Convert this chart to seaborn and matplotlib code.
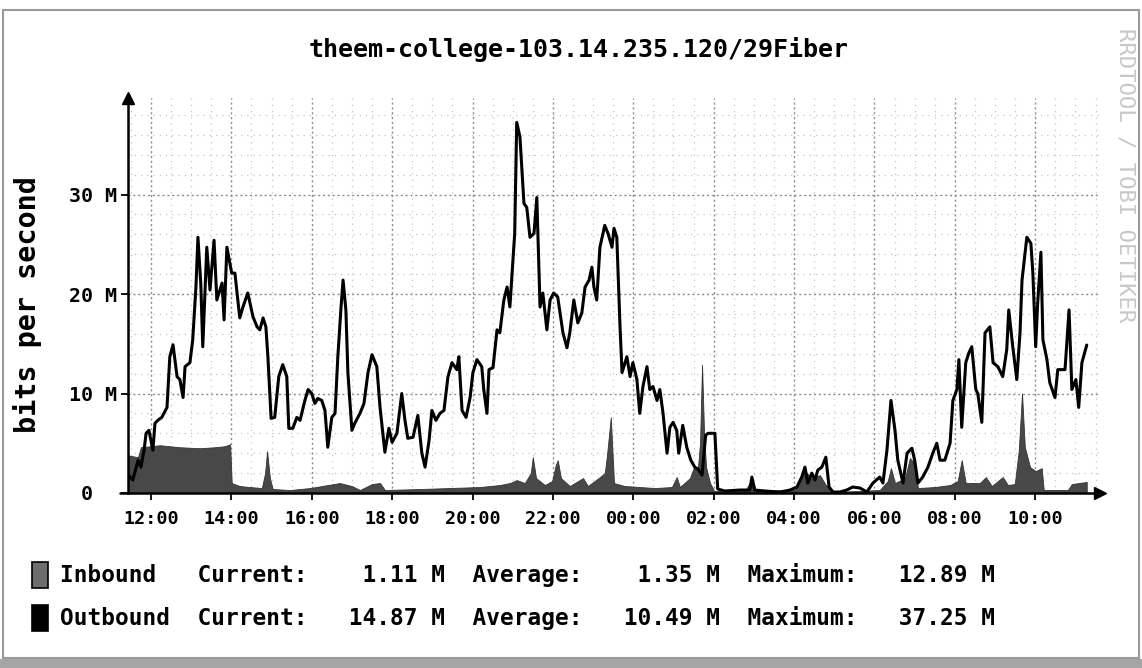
import matplotlib
matplotlib.use("Agg")
import matplotlib.pyplot as plt
import matplotlib.transforms as mtransforms
from matplotlib.patches import Rectangle
from matplotlib.ticker import FixedLocator, MultipleLocator
import pandas as pd
import seaborn as sns

# ---- chart text -------------------------------------------------------
title = "theem-college-103.14.235.120/29Fiber"
y_label = "bits per second"
watermark = "RRDTOOL / TOBI OETIKER"

# hours counted from 12:00 on the first day
hour_ticks = [0, 2, 4, 6, 8, 10, 12, 14, 16, 18, 20, 22]
hour_labels = ["12:00", "14:00", "16:00", "18:00", "20:00", "22:00",
               "00:00", "02:00", "04:00", "06:00", "08:00", "10:00"]
mbps_ticks = [0, 10, 20, 30]
mbps_labels = ["0", "10 M", "20 M", "30 M"]

# ---- outbound traffic (Mbit/s) ---------------------------------------
out_hours = [
    -0.60, -0.45, -0.32, -0.25, -0.17, -0.12, -0.05, 0.05, 0.10, 0.17,
    0.27, 0.40, 0.47, 0.55, 0.65, 0.72, 0.80, 0.85, 0.97, 1.04,
    1.12, 1.17, 1.24, 1.29, 1.39, 1.47, 1.57, 1.64, 1.77, 1.82,
    1.89, 2.01, 2.09, 2.21, 2.29, 2.41, 2.54, 2.64, 2.71, 2.79,
    2.86, 2.91, 2.99, 3.08, 3.18, 3.28, 3.38, 3.43, 3.53, 3.63,
    3.71, 3.83, 3.91, 4.00, 4.08, 4.15, 4.25, 4.33, 4.40, 4.50,
    4.58, 4.65, 4.73, 4.78, 4.85, 4.90, 5.00, 5.07, 5.20, 5.30,
    5.40, 5.50, 5.62, 5.70, 5.82, 5.92, 6.00, 6.12, 6.24, 6.32,
    6.39, 6.52, 6.64, 6.74, 6.82, 6.92, 6.99, 7.09, 7.19, 7.29,
    7.39, 7.49, 7.61, 7.66, 7.74, 7.84, 7.94, 8.01, 8.11, 8.23,
    8.28, 8.36, 8.41, 8.51, 8.61, 8.68, 8.78, 8.86, 8.93, 9.00,
    9.05, 9.10, 9.18, 9.28, 9.35, 9.43, 9.53, 9.60, 9.68, 9.75,
    9.85, 9.93, 10.02, 10.12, 10.25, 10.35, 10.42, 10.52, 10.62, 10.72,
    10.80, 10.90, 10.97, 11.02, 11.09, 11.17, 11.29, 11.37, 11.47, 11.52,
    11.59, 11.67, 11.72, 11.84, 11.92, 11.99, 12.09, 12.16, 12.24, 12.34,
    12.41, 12.49, 12.59, 12.66, 12.74, 12.84, 12.91, 12.99, 13.08, 13.13,
    13.23, 13.33, 13.43, 13.53, 13.61, 13.71, 13.80, 13.86, 14.03, 14.10,
    14.28, 14.65, 14.90, 14.95, 15.02, 15.27, 15.65, 15.90, 16.07, 16.19,
    16.27, 16.34, 16.44, 16.52, 16.59, 16.69, 16.79, 16.87, 16.97, 17.14,
    17.31, 17.46, 17.64, 17.81, 17.96, 18.13, 18.21, 18.31, 18.41, 18.51,
    18.58, 18.71, 18.81, 18.93, 19.00, 19.08, 19.20, 19.33, 19.45, 19.55,
    19.63, 19.75, 19.88, 19.95, 20.05, 20.10, 20.17, 20.27, 20.35, 20.42,
    20.52, 20.57, 20.67, 20.75, 20.87, 20.95, 21.07, 21.19, 21.29, 21.34,
    21.44, 21.54, 21.62, 21.67, 21.79, 21.89, 21.94, 22.01, 22.06, 22.14,
    22.19, 22.29, 22.36, 22.49, 22.56, 22.74, 22.84, 22.91, 23.01, 23.08,
    23.16, 23.28,
]
out_mbps = [
    2.0, 1.3, 3.3, 2.6, 4.3, 6.0, 6.3, 4.3, 7.0, 7.3,
    7.6, 8.6, 13.7, 14.9, 11.7, 11.4, 9.6, 12.7, 13.1, 15.4,
    20.7, 25.7, 21.1, 14.7, 24.7, 20.4, 25.4, 19.4, 21.1, 17.4,
    24.7, 22.1, 22.1, 17.6, 18.7, 20.1, 17.7, 16.7, 16.4, 17.6,
    16.7, 13.7, 7.5, 7.6, 11.7, 12.9, 11.7, 6.5, 6.5, 7.6,
    7.3, 9.3, 10.4, 10.0, 9.0, 9.5, 9.3, 8.3, 4.6, 7.6,
    8.0, 13.7, 18.7, 21.4, 18.4, 12.1, 6.3, 7.0, 8.0, 9.0,
    12.1, 13.9, 12.7, 8.6, 4.1, 6.5, 5.1, 6.0, 10.0, 7.3,
    5.5, 5.6, 7.8, 4.0, 2.6, 5.3, 8.3, 7.3, 8.0, 8.3,
    11.7, 13.1, 12.4, 13.7, 8.3, 7.6, 9.6, 12.1, 13.4, 12.7,
    10.4, 8.0, 12.4, 12.6, 16.4, 16.1, 19.4, 20.7, 18.7, 23.1,
    26.1, 37.25, 35.8, 29.1, 28.7, 25.7, 26.1, 29.7, 18.7, 20.1,
    16.4, 19.4, 20.1, 19.7, 16.1, 14.6, 16.1, 19.4, 17.1, 18.1,
    20.7, 21.4, 22.7, 20.7, 19.4, 24.7, 26.9, 26.1, 24.7, 26.6,
    25.7, 16.7, 12.1, 13.7, 11.7, 13.1, 11.4, 8.0, 10.7, 12.7,
    10.4, 10.7, 9.3, 10.4, 8.0, 4.0, 6.6, 7.1, 6.3, 4.0,
    6.8, 4.6, 3.3, 2.6, 2.4, 1.8, 5.8, 6.0, 6.0, 0.4,
    0.2, 0.3, 0.3, 1.6, 0.3, 0.2, 0.1, 0.3, 0.6, 1.6,
    2.6, 1.0, 2.0, 1.3, 2.3, 2.6, 3.6, 0.6, 0.1, 0.1,
    0.3, 0.6, 0.5, 0.1, 1.0, 1.6, 1.0, 4.3, 9.3, 6.3,
    3.3, 1.0, 4.0, 4.5, 3.3, 1.0, 1.6, 2.6, 4.0, 5.0,
    3.3, 3.3, 5.0, 9.3, 10.4, 13.4, 6.6, 13.1, 14.1, 14.7,
    10.4, 10.0, 7.1, 16.1, 16.7, 13.1, 12.7, 11.7, 14.4, 18.4,
    14.7, 11.4, 16.1, 21.4, 25.7, 25.1, 22.1, 14.7, 19.1, 24.2,
    15.4, 13.4, 11.1, 9.6, 12.4, 12.4, 18.4, 10.4, 11.4, 8.6,
    13.1, 14.87,
]

# ---- inbound traffic (Mbit/s) ----------------------------------------
in_hours = [
    -0.60, -0.32, -0.25, 0.22, 0.72, 1.22, 1.59, 1.84, 1.97, 2.01,
    2.21, 2.46, 2.76, 2.84, 2.89, 2.96, 3.03, 3.46, 3.96, 4.40,
    4.70, 5.00, 5.20, 5.50, 5.70, 5.82, 6.69, 7.44, 8.18, 8.68,
    8.93, 9.10, 9.30, 9.45, 9.50, 9.58, 9.80, 9.98, 10.07, 10.12,
    10.20, 10.42, 10.75, 10.87, 11.17, 11.29, 11.34, 11.44, 11.52, 11.79,
    12.54, 12.96, 13.08, 13.16, 13.41, 13.51, 13.61, 13.66, 13.71, 13.76,
    13.81, 13.91, 14.01, 14.78, 14.95, 15.05, 16.02, 16.14, 16.27, 16.44,
    16.64, 16.79, 16.97, 18.13, 18.33, 18.41, 18.51, 18.76, 18.88, 19.00,
    19.08, 19.50, 19.88, 20.07, 20.17, 20.27, 20.62, 20.77, 20.92, 21.19,
    21.32, 21.49, 21.59, 21.67, 21.74, 21.87, 22.01, 22.16, 22.21, 22.81,
    22.91, 23.28,
]
in_mbps = [
    3.8, 3.6, 4.6, 4.8, 4.6, 4.5, 4.6, 4.7, 4.9, 1.0,
    0.7, 0.6, 0.5, 2.0, 4.2, 1.5, 0.4, 0.3, 0.5, 0.8,
    1.0, 0.7, 0.3, 0.9, 1.0, 0.3, 0.4, 0.5, 0.6, 0.8,
    1.0, 1.3, 1.0, 2.0, 3.6, 1.5, 0.8, 1.2, 2.8, 3.3,
    1.5, 0.7, 1.5, 0.7, 1.6, 2.0, 3.6, 7.6, 1.0, 0.7,
    0.5, 0.6, 1.6, 0.6, 1.5, 2.6, 2.6, 5.0, 12.89, 6.0,
    2.6, 1.0, 0.2, 0.2, 1.4, 0.2, 0.3, 1.4, 2.2, 1.5,
    1.8, 0.8, 0.1, 0.3, 1.2, 2.5, 1.0, 1.5, 3.5, 3.0,
    0.5, 0.6, 0.8, 1.2, 3.3, 1.0, 1.0, 1.6, 0.7, 1.6,
    0.8, 0.9, 4.3, 10.0, 4.6, 2.6, 2.2, 2.5, 0.3, 0.3,
    0.9, 1.11,
]

# ---- legend statistics (Mbit/s) ---------------------------------------
series_names = ["Inbound", "Outbound"]
current_mbps = [1.11, 14.87]
average_mbps = [1.35, 10.49]
maximum_mbps = [12.89, 37.25]
legend_colors = ["#6e6e6e", "#000000"]

out_df = pd.DataFrame({"hours": out_hours, "mbps": out_mbps})
in_df = pd.DataFrame({"hours": in_hours, "mbps": in_mbps})

sns.set_theme(style="white")
plt.rcParams["font.family"] = ["DejaVu Sans Mono", "DejaVu Sans"]
plt.rcParams["font.weight"] = "bold"

W, H = 1142, 668
fig = plt.figure(figsize=(W / 100, H / 100), dpi=100)
fig.patch.set_facecolor("white")
ax = fig.add_axes([128 / W, 175 / H, 972 / W, 395 / H])
ax.set_facecolor("white")

# inbound as a filled area, outbound as a line on top
ax.fill_between(in_df["hours"], 0, in_df["mbps"], color="#484848",
                linewidth=0.6, edgecolor="#333333", zorder=2)
sns.lineplot(data=out_df, x="hours", y="mbps", ax=ax, color="black",
             linewidth=2.2, estimator=None, sort=False, zorder=3)

ax.set_xlim(-0.57, 23.61)
ax.set_ylim(0, 39.7)
ax.set_xlabel("")
ax.set_ylabel("")

# grid: dense dots on major lines, sparse dots on minor lines
ax.xaxis.set_major_locator(FixedLocator(hour_ticks))
ax.xaxis.set_minor_locator(MultipleLocator(0.5))
ax.yaxis.set_minor_locator(MultipleLocator(2))
ax.grid(which="minor", color="#c4c4c4", linestyle=(0, (1, 4)), linewidth=0.9)
ax.grid(which="major", color="#8c8c8c", linestyle=(0, (1.5, 2)), linewidth=1.0)
ax.set_axisbelow(True)

ax.set_xticks(hour_ticks, hour_labels)
ax.set_yticks(mbps_ticks, mbps_labels)
ax.tick_params(which="minor", length=0)
ax.tick_params(axis="x", which="major", bottom=True, direction="out",
               length=5, width=1.3, pad=7, labelsize=13.2, colors="black")
ax.tick_params(axis="y", which="major", left=True, direction="out",
               length=5, width=1.3, pad=3, labelsize=14.3, colors="black")

for side in ("top", "right"):
    ax.spines[side].set_visible(False)
for side in ("left", "bottom"):
    ax.spines[side].set_color("black")
    ax.spines[side].set_linewidth(1.8)
    ax.spines[side].set_zorder(4)

# axis arrows
ax.plot(0, 1, marker="^", markersize=9, color="black",
        transform=ax.transAxes, clip_on=False, zorder=5)
ax.plot(1, 0, marker=">", markersize=9, color="black",
        transform=ax.transAxes, clip_on=False, zorder=5)
ax.plot([-0.008, 0], [0, 0], color="black", linewidth=1.8,
        transform=ax.transAxes, clip_on=False, zorder=5)

# keep the "0" label in the digit column of "10 M"
zero_label = ax.get_yticklabels()[0]
shift = mtransforms.ScaledTranslation(-2 * 0.602 * 14.3 / 72, 0,
                                      fig.dpi_scale_trans)
zero_label.set_transform(zero_label.get_transform() + shift)

# title and axis label
fig.text(578.5 / W, 1 - 50 / H, title, ha="center", va="center",
         fontsize=18, color="black")
fig.text(28 / W, 1 - 305 / H, y_label, rotation=90, ha="center",
         va="center", fontsize=20.5, color="black")
fig.text(1126 / W, 1 - 28 / H, watermark, rotation=270, ha="center",
         va="top", fontsize=16, color="#c8c8c8", fontweight="normal")

# legend rows with statistics
row_centers = [575, 618]
for name, cur, avg, mx, col, yc in zip(series_names, current_mbps,
                                       average_mbps, maximum_mbps,
                                       legend_colors, row_centers):
    fig.patches.append(Rectangle((32 / W, 1 - (yc + 13) / H), 16 / W, 26 / H,
                                 transform=fig.transFigure,
                                 facecolor=col, edgecolor="black",
                                 linewidth=1.2))
    row = (f"{name:<10}Current:{f'{cur:.2f} M':>10}  "
           f"Average:{f'{avg:.2f} M':>10}  Maximum:{f'{mx:.2f} M':>10}")
    fig.text(60 / W, 1 - yc / H, row, ha="left", va="center",
             fontsize=16.4, color="black")

# page frame
fig.patches.append(Rectangle((3 / W, 10 / H), (W - 6) / W, (H - 20) / H,
                             transform=fig.transFigure, fill=False,
                             edgecolor="#9a9a9a", linewidth=1.5))
fig.patches.append(Rectangle((0, 0), 1, 9 / H, transform=fig.transFigure,
                             facecolor="#a5a5a5", edgecolor="none"))

fig.savefig("out.png", dpi=100, facecolor="white")
